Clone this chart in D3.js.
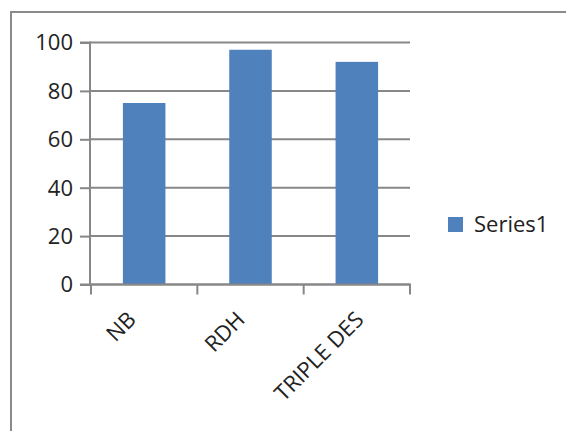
<!DOCTYPE html>
<html><head><meta charset="utf-8">
<script src="https://cdn.jsdelivr.net/npm/d3@7"></script>
<style>html,body{margin:0;padding:0;background:#fff;}svg{display:block;}</style>
</head><body>
<svg id="c" width="566" height="431"></svg>
<script>
const categories = ["NB", "RDH", "TRIPLE DES"];
const values = [75, 97, 92];
const yTicks = [0, 20, 40, 60, 80, 100];
const seriesName = "Series1";

const svg = d3.select("#c");
const FONT = "'Open Sans', sans-serif";
const grid = "#878787";
const barColor = "#4F81BD";

// frame (top and left edges)
svg.append("path").attr("d", "M11,431V12H566").attr("fill","none").attr("stroke","#8a8a8a").attr("stroke-width",2);

const x = d3.scaleBand().domain(categories).range([91, 410]).paddingInner(0.6).paddingOuter(0.3);
const y = d3.scaleLinear().domain([0, 100]).range([284.5, 42.5]);

// gridlines
svg.append("g").selectAll("line").data(yTicks).join("line")
  .attr("x1", 90).attr("x2", 410).attr("y1", d => y(d)).attr("y2", d => y(d))
  .attr("stroke", grid).attr("stroke-width", 2);

// bars
svg.append("g").selectAll("rect").data(values).join("rect")
  .attr("x", (d, i) => x(categories[i])).attr("width", x.bandwidth())
  .attr("y", d => y(d)).attr("height", d => y(0) - y(d))
  .attr("fill", barColor);

// y axis
const yAxis = d3.axisLeft(y).tickValues(yTicks).tickSize(10).tickPadding(7);
const gy = svg.append("g").attr("transform", "translate(90,0)").call(yAxis);
gy.select(".domain").attr("stroke", grid).attr("stroke-width", 2).attr("d", `M-10,${y(100)}H0V${y(0)}H-10`);
gy.selectAll(".tick line").attr("stroke", grid).attr("stroke-width", 2);
gy.selectAll(".tick text").attr("font-family", FONT).attr("font-size", 22).attr("fill", "#222").attr("dy", "0.34em");

// x axis
const step = x.step();
const edges = [x.range()[0]].concat(categories.map(c => x(c) + x.bandwidth() / 2 + step / 2));
const gx = svg.append("g");
gx.append("line").attr("x1", 90).attr("x2", 411).attr("y1", y(0)).attr("y2", y(0)).attr("stroke", grid).attr("stroke-width", 2);
gx.selectAll("line.t").data(edges).join("line").attr("class","t")
  .attr("x1", d => d).attr("x2", d => d).attr("y1", y(0)).attr("y2", y(0) + 10)
  .attr("stroke", grid).attr("stroke-width", 2);
gx.selectAll("text").data(categories).join("text")
  .attr("font-family", FONT).attr("font-size", 22).attr("fill", "#222")
  .attr("text-anchor", "end")
  .text(d => d)
  .each(function(d) {
    const len = this.getComputedTextLength();
    const cx = x(d) + x.bandwidth() / 2 - 12.5 + 0.18 * len;
    const cy = y(0) + 36.5;
    d3.select(this).attr("transform", `translate(${cx},${cy}) rotate(-45)`);
  });

// legend
svg.append("rect").attr("x", 448).attr("y", 217).attr("width", 15).attr("height", 15).attr("fill", barColor);
svg.append("text").attr("x", 474).attr("y", 232).attr("font-family", FONT).attr("font-size", 22).attr("fill", "#222").text(seriesName);
</script>
</body></html>
